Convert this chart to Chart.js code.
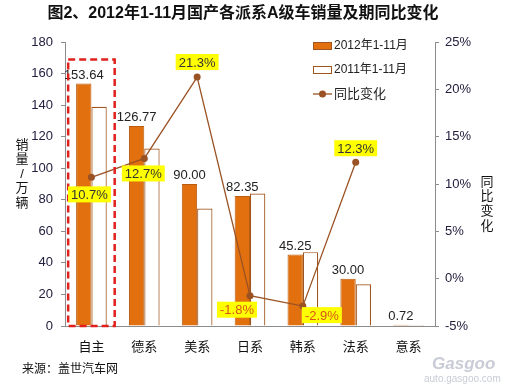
<!DOCTYPE html>
<html>
<head>
<meta charset="utf-8">
<script src="https://cdn.jsdelivr.net/npm/chart.js@4.4.0/dist/chart.umd.min.js"></script>
<style>
  html, body { margin: 0; padding: 0; background: #fff; }
  #box { width: 510px; height: 386px; }
</style>
</head>
<body>
<div id="box"><canvas id="salesChart" width="510" height="386"></canvas></div>
<script>
var categories = ["自主", "德系", "美系", "日系", "韩系", "法系", "意系"];
var sales2012 = [153.64, 126.77, 90.00, 82.35, 45.25, 30.00, 0.72];
var sales2011 = [139.0, 112.5, 74.5, 84.0, 46.8, 26.5, 0.7];
var yoyChange = [10.7, 12.7, 21.3, -1.8, -2.9, 12.3, null];
var leftTicks = [0, 20, 40, 60, 80, 100, 120, 140, 160, 180];
var rightTicks = [-5, 0, 5, 10, 15, 20, 25];

// where each percent box sits relative to its point
var pctOffsets = [[-2, 17], [-1, 15], [0, -15], [-13, 14], [19, 9], [0, -14], [0, 0]];

var cjk = '"Liberation Sans", "Noto Sans CJK SC", sans-serif';
var orange = "#E2700E";
var brown = "#9A5224";
var tickInk = "#23203f";

var extras = {
    id: "extras",
    afterDatasetsDraw: function (chart) {
        var ctx = chart.ctx;
        var xs = chart.scales.x, yl = chart.scales.y, yr = chart.scales.y1;
        var barMeta = chart.getDatasetMeta(0);
        ctx.save();

        // value labels above 2012 bars
        ctx.font = "13px " + cjk;
        ctx.fillStyle = "#222";
        ctx.textAlign = "center";
        ctx.textBaseline = "bottom";
        for (var i = 0; i < sales2012.length; i++) {
            var bar = barMeta.data[i];
            ctx.fillText(sales2012[i].toFixed(2), bar.x, bar.y - 2);
        }

        // dashed red box around 自主
        var cx = xs.getPixelForValue(0);
        var half = (xs.getPixelForValue(1) - cx) * 0.44;
        var top = barMeta.data[0].y - 24;
        ctx.strokeStyle = "#E0201C";
        ctx.lineWidth = 2.5;
        ctx.setLineDash([7, 4]);
        ctx.strokeRect(cx - half, top, half * 2, yl.getPixelForValue(0) - top);
        ctx.setLineDash([]);

        // yellow percent boxes
        ctx.font = "13px " + cjk;
        ctx.textBaseline = "middle";
        for (var j = 0; j < yoyChange.length; j++) {
            if (yoyChange[j] === null) continue;
            var px = xs.getPixelForValue(j) + pctOffsets[j][0];
            var py = yr.getPixelForValue(yoyChange[j]) + pctOffsets[j][1];
            var txt = yoyChange[j].toFixed(1) + "%";
            var w = ctx.measureText(txt).width + 6;
            ctx.fillStyle = "#FFFF00";
            ctx.fillRect(px - w / 2, py - 8, w, 16);
            ctx.fillStyle = yoyChange[j] < 0 ? "#D9541A" : "#333";
            ctx.fillText(txt, px, py + 1);
        }

        // legend
        var lx = 313, ly = 46;
        ctx.font = "12px " + cjk;
        ctx.textAlign = "left";
        ctx.fillStyle = orange;
        ctx.fillRect(lx, ly - 4, 19, 8);
        ctx.strokeStyle = "#A0561E";
        ctx.lineWidth = 1;
        ctx.strokeRect(lx + 0.5, ly - 3.5, 18, 7);
        ctx.fillStyle = "#222";
        ctx.fillText("2012年1-11月", lx + 21, ly);
        ctx.fillStyle = "#fff";
        ctx.fillRect(lx, ly + 20, 19, 8);
        ctx.strokeRect(lx + 0.5, ly + 20.5, 18, 7);
        ctx.fillStyle = "#222";
        ctx.fillText("2011年1-11月", lx + 21, ly + 24);
        ctx.strokeStyle = brown;
        ctx.lineWidth = 1.3;
        ctx.beginPath();
        ctx.moveTo(lx, ly + 48);
        ctx.lineTo(lx + 19, ly + 48);
        ctx.stroke();
        ctx.fillStyle = brown;
        ctx.beginPath();
        ctx.arc(lx + 9.5, ly + 48, 3.5, 0, Math.PI * 2);
        ctx.fill();
        ctx.fillStyle = "#222";
        ctx.font = "13px " + cjk;
        ctx.fillText("同比变化", lx + 21, ly + 48);

        // title
        ctx.textAlign = "center";
        ctx.fillStyle = "#111";
        ctx.font = "bold 16px " + cjk;
        ctx.fillText("图2、2012年1-11月国产各派系A级车销量及期同比变化", 243, 14);

        // axis titles, stacked characters
        ctx.font = "13px " + cjk;
        var leftTitle = ["销", "量", "/", "万", "辆"];
        for (var k = 0; k < leftTitle.length; k++) {
            ctx.fillText(leftTitle[k], 22, 145 + k * 14.5);
        }
        var rightTitle = ["同", "比", "变", "化"];
        for (var m = 0; m < rightTitle.length; m++) {
            ctx.fillText(rightTitle[m], 487, 182 + m * 14.8);
        }

        // source + watermark
        ctx.textAlign = "left";
        ctx.font = "12px " + cjk;
        ctx.fillStyle = "#111";
        ctx.fillText("来源：盖世汽车网", 22, 370);
        ctx.fillStyle = "#c9ccd6";
        ctx.font = "bold italic 17px " + cjk;
        ctx.fillText("Gasgoo", 432, 364);
        ctx.font = "10px " + cjk;
        ctx.fillText("auto.gasgoo.com", 424, 379);
        ctx.restore();
    }
};

var chart = new Chart(document.getElementById("salesChart"), {
    type: "bar",
    data: {
        labels: categories,
        datasets: [{
            label: "2012年1-11月",
            data: sales2012,
            backgroundColor: orange,
            borderColor: "#B85C10",
            borderWidth: 1,
            categoryPercentage: 0.58,
            barPercentage: 1,
            yAxisID: "y",
            order: 2
        },
        {
            label: "2011年1-11月",
            data: sales2011,
            backgroundColor: "#fff",
            borderColor: "#A0561E",
            borderWidth: 1.2,
            categoryPercentage: 0.58,
            barPercentage: 1,
            yAxisID: "y",
            order: 2
        },
        {
            type: "line",
            label: "同比变化",
            data: yoyChange,
            borderColor: brown,
            backgroundColor: brown,
            borderWidth: 1.3,
            pointRadius: 3.5,
            pointBackgroundColor: brown,
            pointBorderWidth: 0,
            tension: 0,
            yAxisID: "y1",
            order: 0
        }]
    },
    options: {
        responsive: false,
        animation: false,
        layout: { padding: { top: 42, left: 0, right: 0, bottom: 0 } },
        plugins: { legend: { display: false }, tooltip: { enabled: false } },
        scales: {
            x: {
                grid: { display: false },
                border: { color: "#8c8c8c" },
                ticks: { color: "#111", font: { size: 13, family: cjk }, padding: 6 },
                afterFit: function (s) { s.height = 60; }
            },
            y: {
                position: "left",
                min: 0, max: 180,
                afterBuildTicks: function (s) { s.ticks = leftTicks.map(function (v) { return { value: v }; }); },
                grid: { drawOnChartArea: false, tickLength: 4, color: "#8c8c8c" },
                border: { color: "#8c8c8c" },
                ticks: { color: tickInk, font: { size: 13, family: cjk }, padding: 8 },
                afterFit: function (s) { s.width = 65; }
            },
            y1: {
                position: "right",
                min: -5, max: 25,
                afterBuildTicks: function (s) { s.ticks = rightTicks.map(function (v) { return { value: v }; }); },
                grid: { drawOnChartArea: false, tickLength: 4, color: "#8c8c8c" },
                border: { color: "#8c8c8c" },
                ticks: {
                    color: tickInk, font: { size: 13, family: cjk }, padding: 6,
                    callback: function (v) { return v + "%"; }
                },
                afterFit: function (s) { s.width = 75; }
            }
        }
    },
    plugins: [extras]
});
</script>
</body>
</html>
